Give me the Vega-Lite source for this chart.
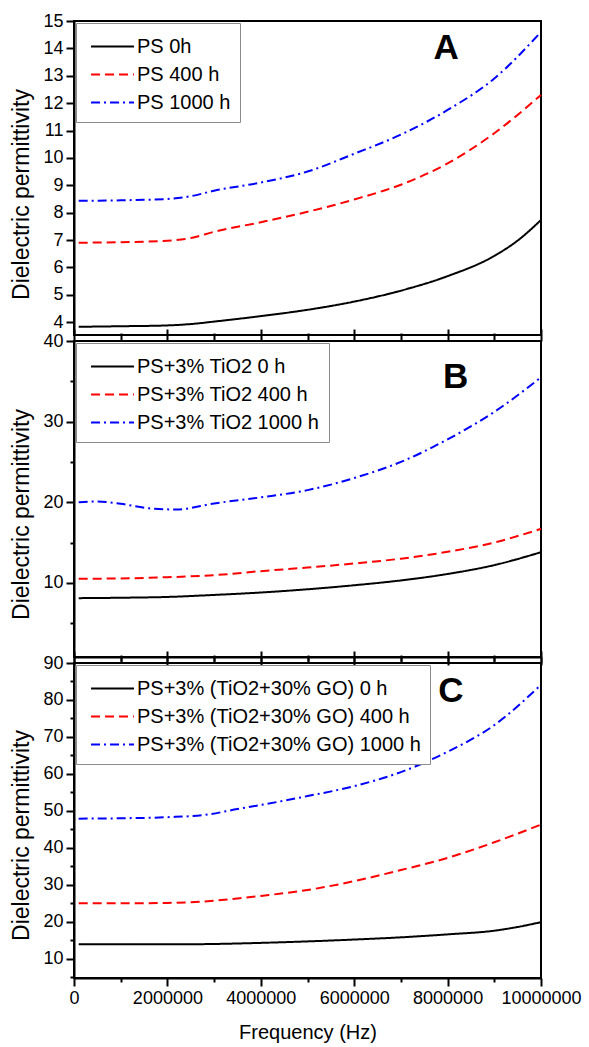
{
  "$schema": "https://vega.github.io/schema/vega-lite/v6.json",
  "background": "white",
  "padding": {"top": 11, "left": 9, "right": 5, "bottom": 5},
  "bounds": "flush",
  "spacing": 6,
  "datasets": {
    "curves": [
      {"panel": "A", "series": "PS 0h", "f": 100000, "eps": 3.83},
      {"panel": "A", "series": "PS 0h", "f": 1000000, "eps": 3.85},
      {"panel": "A", "series": "PS 0h", "f": 2000000, "eps": 3.88},
      {"panel": "A", "series": "PS 0h", "f": 2500000, "eps": 3.93},
      {"panel": "A", "series": "PS 0h", "f": 3000000, "eps": 4.02},
      {"panel": "A", "series": "PS 0h", "f": 4000000, "eps": 4.22},
      {"panel": "A", "series": "PS 0h", "f": 5000000, "eps": 4.45},
      {"panel": "A", "series": "PS 0h", "f": 6000000, "eps": 4.75},
      {"panel": "A", "series": "PS 0h", "f": 7000000, "eps": 5.15},
      {"panel": "A", "series": "PS 0h", "f": 8000000, "eps": 5.68},
      {"panel": "A", "series": "PS 0h", "f": 9000000, "eps": 6.42},
      {"panel": "A", "series": "PS 0h", "f": 9500000, "eps": 6.98},
      {"panel": "A", "series": "PS 0h", "f": 10000000, "eps": 7.73},
      {"panel": "A", "series": "PS 400 h", "f": 100000, "eps": 6.9},
      {"panel": "A", "series": "PS 400 h", "f": 1000000, "eps": 6.92},
      {"panel": "A", "series": "PS 400 h", "f": 2000000, "eps": 6.97},
      {"panel": "A", "series": "PS 400 h", "f": 2500000, "eps": 7.07},
      {"panel": "A", "series": "PS 400 h", "f": 3000000, "eps": 7.3},
      {"panel": "A", "series": "PS 400 h", "f": 4000000, "eps": 7.65},
      {"panel": "A", "series": "PS 400 h", "f": 5000000, "eps": 8.03},
      {"panel": "A", "series": "PS 400 h", "f": 6000000, "eps": 8.48},
      {"panel": "A", "series": "PS 400 h", "f": 7000000, "eps": 9.02},
      {"panel": "A", "series": "PS 400 h", "f": 8000000, "eps": 9.8},
      {"panel": "A", "series": "PS 400 h", "f": 9000000, "eps": 10.9},
      {"panel": "A", "series": "PS 400 h", "f": 10000000, "eps": 12.3},
      {"panel": "A", "series": "PS 1000 h", "f": 100000, "eps": 8.43},
      {"panel": "A", "series": "PS 1000 h", "f": 1000000, "eps": 8.45},
      {"panel": "A", "series": "PS 1000 h", "f": 2000000, "eps": 8.5},
      {"panel": "A", "series": "PS 1000 h", "f": 2500000, "eps": 8.6},
      {"panel": "A", "series": "PS 1000 h", "f": 3000000, "eps": 8.8},
      {"panel": "A", "series": "PS 1000 h", "f": 4000000, "eps": 9.1},
      {"panel": "A", "series": "PS 1000 h", "f": 5000000, "eps": 9.5},
      {"panel": "A", "series": "PS 1000 h", "f": 6000000, "eps": 10.15},
      {"panel": "A", "series": "PS 1000 h", "f": 7000000, "eps": 10.85},
      {"panel": "A", "series": "PS 1000 h", "f": 8000000, "eps": 11.75},
      {"panel": "A", "series": "PS 1000 h", "f": 9000000, "eps": 12.9},
      {"panel": "A", "series": "PS 1000 h", "f": 10000000, "eps": 14.6},

      {"panel": "B", "series": "PS+3% TiO2 0 h", "f": 100000, "eps": 8.1},
      {"panel": "B", "series": "PS+3% TiO2 0 h", "f": 1000000, "eps": 8.15},
      {"panel": "B", "series": "PS+3% TiO2 0 h", "f": 2000000, "eps": 8.25},
      {"panel": "B", "series": "PS+3% TiO2 0 h", "f": 3000000, "eps": 8.5},
      {"panel": "B", "series": "PS+3% TiO2 0 h", "f": 4000000, "eps": 8.8},
      {"panel": "B", "series": "PS+3% TiO2 0 h", "f": 5000000, "eps": 9.2},
      {"panel": "B", "series": "PS+3% TiO2 0 h", "f": 6000000, "eps": 9.7},
      {"panel": "B", "series": "PS+3% TiO2 0 h", "f": 7000000, "eps": 10.3},
      {"panel": "B", "series": "PS+3% TiO2 0 h", "f": 8000000, "eps": 11.1},
      {"panel": "B", "series": "PS+3% TiO2 0 h", "f": 9000000, "eps": 12.2},
      {"panel": "B", "series": "PS+3% TiO2 0 h", "f": 10000000, "eps": 13.8},
      {"panel": "B", "series": "PS+3% TiO2 400 h", "f": 100000, "eps": 10.5},
      {"panel": "B", "series": "PS+3% TiO2 400 h", "f": 1000000, "eps": 10.55},
      {"panel": "B", "series": "PS+3% TiO2 400 h", "f": 2000000, "eps": 10.7},
      {"panel": "B", "series": "PS+3% TiO2 400 h", "f": 3000000, "eps": 10.95},
      {"panel": "B", "series": "PS+3% TiO2 400 h", "f": 4000000, "eps": 11.45},
      {"panel": "B", "series": "PS+3% TiO2 400 h", "f": 5000000, "eps": 11.9},
      {"panel": "B", "series": "PS+3% TiO2 400 h", "f": 6000000, "eps": 12.4},
      {"panel": "B", "series": "PS+3% TiO2 400 h", "f": 7000000, "eps": 13.0},
      {"panel": "B", "series": "PS+3% TiO2 400 h", "f": 8000000, "eps": 13.85},
      {"panel": "B", "series": "PS+3% TiO2 400 h", "f": 9000000, "eps": 15.0},
      {"panel": "B", "series": "PS+3% TiO2 400 h", "f": 10000000, "eps": 16.7},
      {"panel": "B", "series": "PS+3% TiO2 1000 h", "f": 100000, "eps": 20.0},
      {"panel": "B", "series": "PS+3% TiO2 1000 h", "f": 500000, "eps": 20.1},
      {"panel": "B", "series": "PS+3% TiO2 1000 h", "f": 1000000, "eps": 19.8},
      {"panel": "B", "series": "PS+3% TiO2 1000 h", "f": 1600000, "eps": 19.25},
      {"panel": "B", "series": "PS+3% TiO2 1000 h", "f": 2200000, "eps": 19.1},
      {"panel": "B", "series": "PS+3% TiO2 1000 h", "f": 3000000, "eps": 19.85},
      {"panel": "B", "series": "PS+3% TiO2 1000 h", "f": 4000000, "eps": 20.6},
      {"panel": "B", "series": "PS+3% TiO2 1000 h", "f": 5000000, "eps": 21.5},
      {"panel": "B", "series": "PS+3% TiO2 1000 h", "f": 6000000, "eps": 23.0},
      {"panel": "B", "series": "PS+3% TiO2 1000 h", "f": 7000000, "eps": 25.0},
      {"panel": "B", "series": "PS+3% TiO2 1000 h", "f": 8000000, "eps": 27.8},
      {"panel": "B", "series": "PS+3% TiO2 1000 h", "f": 9000000, "eps": 31.2},
      {"panel": "B", "series": "PS+3% TiO2 1000 h", "f": 10000000, "eps": 35.5},

      {"panel": "C", "series": "PS+3% (TiO2+30% GO) 0 h", "f": 100000, "eps": 13.9},
      {"panel": "C", "series": "PS+3% (TiO2+30% GO) 0 h", "f": 1000000, "eps": 13.9},
      {"panel": "C", "series": "PS+3% (TiO2+30% GO) 0 h", "f": 2000000, "eps": 13.9},
      {"panel": "C", "series": "PS+3% (TiO2+30% GO) 0 h", "f": 3000000, "eps": 14.0},
      {"panel": "C", "series": "PS+3% (TiO2+30% GO) 0 h", "f": 4000000, "eps": 14.3},
      {"panel": "C", "series": "PS+3% (TiO2+30% GO) 0 h", "f": 5000000, "eps": 14.7},
      {"panel": "C", "series": "PS+3% (TiO2+30% GO) 0 h", "f": 6000000, "eps": 15.2},
      {"panel": "C", "series": "PS+3% (TiO2+30% GO) 0 h", "f": 7000000, "eps": 15.8},
      {"panel": "C", "series": "PS+3% (TiO2+30% GO) 0 h", "f": 8000000, "eps": 16.6},
      {"panel": "C", "series": "PS+3% (TiO2+30% GO) 0 h", "f": 9000000, "eps": 17.6},
      {"panel": "C", "series": "PS+3% (TiO2+30% GO) 0 h", "f": 9500000, "eps": 18.6},
      {"panel": "C", "series": "PS+3% (TiO2+30% GO) 0 h", "f": 10000000, "eps": 19.9},
      {"panel": "C", "series": "PS+3% (TiO2+30% GO) 400 h", "f": 100000, "eps": 25.0},
      {"panel": "C", "series": "PS+3% (TiO2+30% GO) 400 h", "f": 1000000, "eps": 25.0},
      {"panel": "C", "series": "PS+3% (TiO2+30% GO) 400 h", "f": 2000000, "eps": 25.1},
      {"panel": "C", "series": "PS+3% (TiO2+30% GO) 400 h", "f": 2800000, "eps": 25.5},
      {"panel": "C", "series": "PS+3% (TiO2+30% GO) 400 h", "f": 3500000, "eps": 26.3},
      {"panel": "C", "series": "PS+3% (TiO2+30% GO) 400 h", "f": 4000000, "eps": 27.0},
      {"panel": "C", "series": "PS+3% (TiO2+30% GO) 400 h", "f": 5000000, "eps": 28.6},
      {"panel": "C", "series": "PS+3% (TiO2+30% GO) 400 h", "f": 6000000, "eps": 31.0},
      {"panel": "C", "series": "PS+3% (TiO2+30% GO) 400 h", "f": 7000000, "eps": 34.0},
      {"panel": "C", "series": "PS+3% (TiO2+30% GO) 400 h", "f": 8000000, "eps": 37.3},
      {"panel": "C", "series": "PS+3% (TiO2+30% GO) 400 h", "f": 9000000, "eps": 41.5},
      {"panel": "C", "series": "PS+3% (TiO2+30% GO) 400 h", "f": 10000000, "eps": 46.3},
      {"panel": "C", "series": "PS+3% (TiO2+30% GO) 1000 h", "f": 100000, "eps": 47.9},
      {"panel": "C", "series": "PS+3% (TiO2+30% GO) 1000 h", "f": 1000000, "eps": 48.0},
      {"panel": "C", "series": "PS+3% (TiO2+30% GO) 1000 h", "f": 2000000, "eps": 48.3},
      {"panel": "C", "series": "PS+3% (TiO2+30% GO) 1000 h", "f": 2800000, "eps": 48.9},
      {"panel": "C", "series": "PS+3% (TiO2+30% GO) 1000 h", "f": 3500000, "eps": 50.5},
      {"panel": "C", "series": "PS+3% (TiO2+30% GO) 1000 h", "f": 4000000, "eps": 51.6},
      {"panel": "C", "series": "PS+3% (TiO2+30% GO) 1000 h", "f": 5000000, "eps": 54.0},
      {"panel": "C", "series": "PS+3% (TiO2+30% GO) 1000 h", "f": 6000000, "eps": 56.7},
      {"panel": "C", "series": "PS+3% (TiO2+30% GO) 1000 h", "f": 7000000, "eps": 60.5},
      {"panel": "C", "series": "PS+3% (TiO2+30% GO) 1000 h", "f": 8000000, "eps": 66.0},
      {"panel": "C", "series": "PS+3% (TiO2+30% GO) 1000 h", "f": 9000000, "eps": 73.2},
      {"panel": "C", "series": "PS+3% (TiO2+30% GO) 1000 h", "f": 10000000, "eps": 84.1}
    ]
  },
  "config": {
    "font": "Liberation Sans",
    "view": {"stroke": "black", "strokeWidth": 2},
    "axis": {
      "grid": false,
      "domainColor": "black",
      "domainWidth": 2,
      "tickColor": "black",
      "tickWidth": 2,
      "labelColor": "black",
      "labelFont": "Liberation Sans",
      "labelFontSize": 18,
      "labelPadding": 3,
      "labelOverlap": false,
      "labelFlush": false,
      "titleFont": "Liberation Sans",
      "titleFontWeight": "normal",
      "titleColor": "black"
    },
    "legend": {
      "orient": "top-left",
      "offset": 2,
      "strokeColor": "#8c8c8c",
      "fillColor": "white",
      "padding": 9,
      "labelFont": "Liberation Sans",
      "labelFontSize": 20,
      "labelColor": "black",
      "labelLimit": 500,
      "symbolType": "M-1.6,0H1.6",
      "symbolSize": 720,
      "symbolStrokeWidth": 2,
      "symbolOffset": 13,
      "labelOffset": 10,
      "rowPadding": 3
    }
  },
  "resolve": {
    "scale": {"color": "independent", "strokeDash": "independent", "y": "independent"},
    "legend": {"color": "independent", "strokeDash": "independent"}
  },
  "vconcat": [
    {
      "width": 467,
      "height": 314,
      "layer": [
        {
          "data": {"name": "curves"},
          "transform": [{"filter": "datum.panel === 'A'"}],
          "mark": {"type": "line", "strokeWidth": 2, "interpolate": "monotone"},
          "encoding": {
            "x": {
              "field": "f", "type": "quantitative",
              "scale": {"domain": [0, 10000000], "nice": false, "zero": false},
              "axis": {
                "title": null, "labels": false,
                "values": [0, 1000000, 2000000, 3000000, 4000000, 5000000, 6000000, 7000000, 8000000, 9000000, 10000000],
                "tickSize": {"condition": {"test": "datum.value % 2000000 === 0", "value": 8}, "value": 4}
              }
            },
            "y": {
              "field": "eps", "type": "quantitative",
              "scale": {"domain": [3.53, 15], "nice": false, "zero": false},
              "axis": {
                "title": "Dielectric permittivity", "titleFontSize": 23, "titlePadding": 9, "titleY": 173,
                "format": "d",
                "values": [4, 4.5, 5, 5.5, 6, 6.5, 7, 7.5, 8, 8.5, 9, 9.5, 10, 10.5, 11, 11.5, 12, 12.5, 13, 13.5, 14, 14.5, 15],
                "labelExpr": "datum.value % 1 === 0 ? datum.label : ''",
                "tickSize": {"condition": {"test": "datum.value % 1 === 0", "value": 8}, "value": 4}
              }
            },
            "color": {
              "field": "series", "type": "nominal", "title": null,
              "scale": {"domain": ["PS 0h", "PS 400 h", "PS 1000 h"], "range": ["black", "#ff0000", "#0000ff"]}
            },
            "strokeDash": {
              "field": "series", "type": "nominal", "title": null,
              "scale": {"domain": ["PS 0h", "PS 400 h", "PS 1000 h"], "range": [[1, 0], [9, 5], [9, 4, 2, 4]]}
            }
          }
        },
        {
          "data": {"values": [{"label": "A"}]},
          "mark": {"type": "text", "fontSize": 35, "fontWeight": "bold", "align": "center", "baseline": "middle", "color": "black", "font": "Liberation Sans"},
          "encoding": {
            "x": {"datum": 7970000, "type": "quantitative", "axis": null},
            "y": {
              "datum": 14, "type": "quantitative",
              "axis": {
                "title": "Dielectric permittivity", "titleFontSize": 23, "titlePadding": 9, "titleY": 173,
                "format": "d",
                "values": [4, 4.5, 5, 5.5, 6, 6.5, 7, 7.5, 8, 8.5, 9, 9.5, 10, 10.5, 11, 11.5, 12, 12.5, 13, 13.5, 14, 14.5, 15],
                "labelExpr": "datum.value % 1 === 0 ? datum.label : ''",
                "tickSize": {"condition": {"test": "datum.value % 1 === 0", "value": 8}, "value": 4}
              }
            },
            "text": {"field": "label"}
          }
        }
      ]
    },
    {
      "width": 467,
      "height": 316,
      "resolve": {"axis": {"x": "independent"}},
      "layer": [
        {
          "data": {"name": "curves"},
          "transform": [{"filter": "datum.panel === 'B'"}],
          "mark": {"type": "line", "strokeWidth": 2, "interpolate": "monotone"},
          "encoding": {
            "x": {
              "field": "f", "type": "quantitative",
              "scale": {"domain": [0, 10000000], "nice": false, "zero": false},
              "axis": {
                "title": null, "labels": false, "orient": "bottom",
                "values": [0, 1000000, 2000000, 3000000, 4000000, 5000000, 6000000, 7000000, 8000000, 9000000, 10000000],
                "tickSize": {"condition": {"test": "datum.value % 2000000 === 0", "value": 8}, "value": 4}
              }
            },
            "y": {
              "field": "eps", "type": "quantitative",
              "scale": {"domain": [0.8, 40], "nice": false, "zero": false},
              "axis": {
                "title": "Dielectric permittivity", "titleFontSize": 23, "titlePadding": 9, "titleY": 173,
                "values": [5, 10, 15, 20, 25, 30, 35, 40],
                "labelExpr": "datum.value % 10 === 0 ? datum.label : ''",
                "tickSize": {"condition": {"test": "datum.value % 10 === 0", "value": 8}, "value": 4}
              }
            },
            "color": {
              "field": "series", "type": "nominal", "title": null,
              "scale": {"domain": ["PS+3% TiO2 0 h", "PS+3% TiO2 400 h", "PS+3% TiO2 1000 h"], "range": ["black", "#ff0000", "#0000ff"]}
            },
            "strokeDash": {
              "field": "series", "type": "nominal", "title": null,
              "scale": {"domain": ["PS+3% TiO2 0 h", "PS+3% TiO2 400 h", "PS+3% TiO2 1000 h"], "range": [[1, 0], [9, 5], [9, 4, 2, 4]]}
            }
          }
        },
        {
          "data": {"values": [{"label": "B"}]},
          "mark": {"type": "text", "fontSize": 35, "fontWeight": "bold", "align": "center", "baseline": "middle", "color": "black", "font": "Liberation Sans"},
          "encoding": {
            "x": {
              "datum": 8170000, "type": "quantitative",
              "axis": {
                "orient": "top", "title": null, "labels": false, "domain": false,
                "values": [0, 1000000, 2000000, 3000000, 4000000, 5000000, 6000000, 7000000, 8000000, 9000000, 10000000],
                "tickSize": {"condition": {"test": "datum.value % 2000000 === 0", "value": 12}, "value": 8}
              }
            },
            "y": {
              "datum": 35.5, "type": "quantitative",
              "axis": {
                "title": "Dielectric permittivity", "titleFontSize": 23, "titlePadding": 9, "titleY": 173,
                "values": [5, 10, 15, 20, 25, 30, 35, 40],
                "labelExpr": "datum.value % 10 === 0 ? datum.label : ''",
                "tickSize": {"condition": {"test": "datum.value % 10 === 0", "value": 8}, "value": 4}
              }
            },
            "text": {"field": "label"}
          }
        }
      ]
    },
    {
      "width": 467,
      "height": 315,
      "resolve": {"axis": {"x": "independent"}},
      "layer": [
        {
          "data": {"name": "curves"},
          "transform": [{"filter": "datum.panel === 'C'"}],
          "mark": {"type": "line", "strokeWidth": 2, "interpolate": "monotone"},
          "encoding": {
            "x": {
              "field": "f", "type": "quantitative",
              "scale": {"domain": [0, 10000000], "nice": false, "zero": false},
              "axis": {
                "title": "Frequency (Hz)", "titleFontSize": 20, "titlePadding": 15, "orient": "bottom",
                "format": "d",
                "values": [0, 1000000, 2000000, 3000000, 4000000, 5000000, 6000000, 7000000, 8000000, 9000000, 10000000],
                "labelExpr": "datum.value % 2000000 === 0 ? datum.label : ''",
                "tickSize": {"condition": {"test": "datum.value % 2000000 === 0", "value": 8}, "value": 4}
              }
            },
            "y": {
              "field": "eps", "type": "quantitative",
              "scale": {"domain": [4.8, 90], "nice": false, "zero": false},
              "axis": {
                "title": "Dielectric permittivity", "titleFontSize": 23, "titlePadding": 9, "titleY": 172,
                "values": [5, 10, 15, 20, 25, 30, 35, 40, 45, 50, 55, 60, 65, 70, 75, 80, 85, 90],
                "labelExpr": "datum.value % 10 === 0 ? datum.label : ''",
                "tickSize": {"condition": {"test": "datum.value % 10 === 0", "value": 8}, "value": 4}
              }
            },
            "color": {
              "field": "series", "type": "nominal", "title": null,
              "scale": {"domain": ["PS+3% (TiO2+30% GO) 0 h", "PS+3% (TiO2+30% GO) 400 h", "PS+3% (TiO2+30% GO) 1000 h"], "range": ["black", "#ff0000", "#0000ff"]}
            },
            "strokeDash": {
              "field": "series", "type": "nominal", "title": null,
              "scale": {"domain": ["PS+3% (TiO2+30% GO) 0 h", "PS+3% (TiO2+30% GO) 400 h", "PS+3% (TiO2+30% GO) 1000 h"], "range": [[1, 0], [9, 5], [9, 4, 2, 4]]}
            }
          }
        },
        {
          "data": {"values": [{"label": "C"}]},
          "mark": {"type": "text", "fontSize": 35, "fontWeight": "bold", "align": "center", "baseline": "middle", "color": "black", "font": "Liberation Sans"},
          "encoding": {
            "x": {
              "datum": 8070000, "type": "quantitative",
              "axis": {
                "orient": "top", "title": null, "labels": false, "domain": false,
                "values": [0, 1000000, 2000000, 3000000, 4000000, 5000000, 6000000, 7000000, 8000000, 9000000, 10000000],
                "tickSize": {"condition": {"test": "datum.value % 2000000 === 0", "value": 12}, "value": 8}
              }
            },
            "y": {
              "datum": 82.4, "type": "quantitative",
              "axis": {
                "title": "Dielectric permittivity", "titleFontSize": 23, "titlePadding": 9, "titleY": 172,
                "values": [5, 10, 15, 20, 25, 30, 35, 40, 45, 50, 55, 60, 65, 70, 75, 80, 85, 90],
                "labelExpr": "datum.value % 10 === 0 ? datum.label : ''",
                "tickSize": {"condition": {"test": "datum.value % 10 === 0", "value": 8}, "value": 4}
              }
            },
            "text": {"field": "label"}
          }
        }
      ]
    }
  ]
}
